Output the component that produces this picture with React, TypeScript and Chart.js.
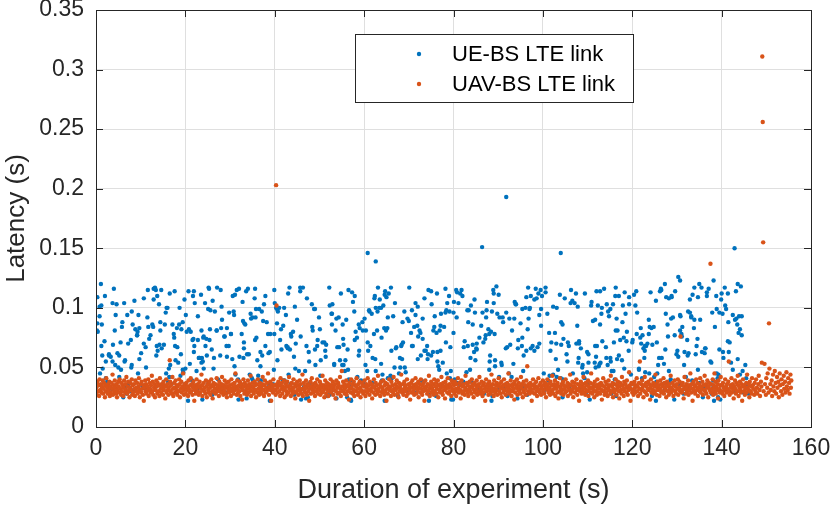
import React, { useEffect, useRef } from "react";
import { Chart, registerables } from "chart.js";

Chart.register(...registerables);

// Axis ticks
const xTicks = [0, 20, 40, 60, 80, 100, 120, 140, 160];
const yTicks = [0, 0.05, 0.1, 0.15, 0.2, 0.25, 0.3, 0.35];

// UE-BS LTE link samples: pairs of (time in 0.1 s, latency in ms)
const ue0to20 = [1,36, 2,81, 3,87, 4,80, 8,101, 9,45, 11,120, 12,68, 13,86, 14,60, 15,49, 19,72, 20,110, 22,41, 25,38, 29,61, 33,59, 35,32, 37,104, 38,69, 40,116, 42,81, 43,52, 46,103, 48,62, 50,50, 52,42, 55,71, 58,84, 61,25, 63,104, 65,56, 66,33, 69,28, 72,70, 73,36, 76,30, 78,73, 79,50, 80,52, 82,86, 85,31, 86,106, 88,82, 92,77, 93,80, 94,45, 95,94, 97,57, 101,62, 104,34, 107,70, 108,33, 111,67, 112,50, 114,32, 115,92, 116,115, 119,74, 120,32, 122,77, 126,86, 128,84, 129,116, 132,117, 134,115, 135,60, 136,68, 138,64, 141,103, 142,69, 144,88, 146,115, 147,66, 149,34, 152,69, 154,86, 157,45, 158,100, 160,100, 161,38, 163,49, 164,42, 165,112, 169,36, 171,86, 174,78, 176,114, 177,68, 178,56, 181,83, 182,67, 184,54, 186,86, 189,43, 190,61, 191,82, 194,48, 195,46, 199,36];
const ue20to40 = [200,49, 201,94, 203,80, 206,22, 208,82, 210,53, 212,80, 215,39, 217,110, 218,74, 219,114, 220,68, 221,104, 225,47, 227,31, 228,93, 230,58, 232,58, 235,111, 236,81, 237,58, 238,23, 239,55, 240,75, 241,76, 244,104, 245,68, 247,74, 248,60, 250,36, 252,117, 253,116, 254,73, 255,82, 259,65, 260,27, 263,49, 264,58, 266,97, 270,81, 271,117, 272,31, 273,40, 275,33, 278,60, 279,115, 280,83, 281,101, 282,32, 284,33, 287,76, 290,29, 292,68, 293,59, 297,68, 298,96, 302,78, 305,57, 306,110, 308,97, 309,94, 311,111, 312,44, 315,115, 318,40, 319,23, 320,116, 324,34, 328,105, 329,89, 330,58, 331,66, 332,87, 334,86, 335,30, 337,24, 338,61, 340,116, 342,61, 344,44, 346,95, 349,41, 350,92, 351,39, 355,108, 356,116, 357,92, 358,99, 359,75, 363,43, 366,39, 368,51, 369,39, 371,97, 372,60, 374,89, 376,103, 379,68, 382,88, 386,62, 388,35, 389,22, 390,78, 393,34, 396,36, 398,48, 399,78];
const ue40to60 = [400,104, 403,100, 405,99, 406,56, 407,97, 410,100, 414,82, 418,39, 419,85, 422,39, 425,94, 426,68, 429,66, 430,112, 431,44, 433,117, 434,65, 435,36, 437,76, 441,80, 443,59, 444,27, 445,101, 446,49, 450,90, 454,47, 457,114, 458,76, 459,23, 463,117, 465,33, 466,34, 470,24, 471,68, 472,108, 474,25, 476,63, 479,37, 483,103, 484,84, 488,99, 490,99, 491,52, 495,68, 496,73, 499,92, 502,43, 503,56, 507,71, 511,71, 514,59, 515,69, 518,26, 522,117, 523,27, 527,95, 528,95, 529,103, 531,31, 533,53, 536,81, 538,24, 540,67, 544,67, 546,56, 548,112, 551,52, 552,86, 553,74, 554,52, 557,47, 558,56, 560,90, 562,25, 564,48, 565,115, 566,40, 569,39, 570,23, 571,22, 572,35, 575,105, 578,97, 579,110, 581,80, 584,75, 585,42, 588,60, 589,64, 590,83, 593,39, 596,88];
const ue60to80 = [600,36, 603,52, 604,81, 607,47, 608,71, 608,146, 609,64, 612,97, 614,68, 617,95, 618,37, 622,78, 623,108, 624,110, 625,57, 626,100, 626,139, 629,81, 630,97, 631,117, 634,100, 635,107, 638,100, 639,75, 640,39, 641,44, 643,102, 645,83, 646,22, 647,114, 650,109, 652,83, 653,41, 655,112, 659,43, 661,64, 662,41, 665,93, 668,50, 669,104, 672,67, 676,26, 678,45, 680,58, 681,50, 684,69, 685,57, 686,88, 687,71, 690,97, 693,46, 696,31, 697,91, 701,117, 705,79, 707,68, 709,68, 712,84, 715,94, 717,29, 719,85, 720,57, 721,76, 724,81, 726,79, 727,60, 728,39, 731,74, 733,38, 735,64, 738,64, 741,68, 743,61, 744,115, 745,22, 746,27, 750,114, 751,103, 754,63, 755,81, 757,84, 761,26, 762,79, 763,112, 764,55, 766,51, 768,48, 769,81, 771,85, 772,95, 775,35, 776,54, 779,84, 782,116, 783,71, 784,98, 785,45, 786,104, 790,110, 791,97, 792,41, 794,47, 795,23, 799,23];
const ue80to100 = [800,79, 801,105, 803,40, 806,115, 807,92, 808,37, 810,30, 814,36, 818,115, 820,110, 822,38, 825,72, 829,46, 831,98, 832,68, 833,88, 836,30, 837,48, 839,102, 840,38, 843,69, 846,63, 847,107, 848,96, 849,56, 851,66, 852,65, 855,32, 858,75, 862,29, 864,151, 865,96, 867,71, 868,28, 872,77, 873,92, 874,98, 875,105, 878,82, 880,48, 881,55, 882,60, 884,80, 885,22, 886,97, 887,26, 889,115, 890,104, 892,78, 893,51, 896,118, 898,95, 901,33, 902,42, 903,92, 907,54, 910,92, 914,34, 917,66, 918,96, 918,193, 921,26, 924,45, 925,91, 927,69, 930,42, 934,53, 935,36, 936,91, 937,105, 939,103, 943,24, 945,73, 947,32, 950,87, 953,68, 954,99, 955,33, 956,47, 957,60, 961,100, 963,64, 965,27, 967,117, 968,91, 970,99, 971,100, 973,66, 977,68, 981,64, 984,116, 986,108, 988,67, 990,112, 992,70, 995,115, 996,85, 998,110];
const ue100to120 = [1002,45, 1003,31, 1006,113, 1007,34, 1010,95, 1012,39, 1015,43, 1017,64, 1019,71, 1023,44, 1027,79, 1029,57, 1030,70, 1031,42, 1034,48, 1038,111, 1040,41, 1040,146, 1041,88, 1044,25, 1045,40, 1046,74, 1049,108, 1053,61, 1056,71, 1058,68, 1060,32, 1062,104, 1063,115, 1067,45, 1071,104, 1075,70, 1078,101, 1079,54, 1080,58, 1081,72, 1085,66, 1086,33, 1089,52, 1090,45, 1093,41, 1096,28, 1099,63, 1101,36, 1102,61, 1105,23, 1109,105, 1112,89, 1116,54, 1117,90, 1118,50, 1119,59, 1121,68, 1123,102, 1125,51, 1127,53, 1128,114, 1129,54, 1132,100, 1133,72, 1137,116, 1141,67, 1143,103, 1145,52, 1146,97, 1148,93, 1151,58, 1152,55, 1153,28, 1157,103, 1158,47, 1159,71, 1161,40, 1162,110, 1163,81, 1164,26, 1165,91, 1166,57, 1167,81, 1170,110, 1173,73, 1177,56, 1179,102, 1182,49, 1183,113, 1185,95, 1188,80, 1192,64, 1193,109, 1197,44];
const ue120to147 = [1200,71, 1204,111, 1205,30, 1207,102, 1209,114, 1211,96, 1215,49, 1219,83, 1220,70, 1222,41, 1225,66, 1227,58, 1228,68, 1229,46, 1231,68, 1234,70, 1237,78, 1238,45, 1239,84, 1241,113, 1244,26, 1245,69, 1248,84, 1249,42, 1253,22, 1254,38, 1255,71, 1256,45, 1258,52, 1260,58, 1264,116, 1265,115, 1269,36, 1271,53, 1273,31, 1273,120, 1274,65, 1275,95, 1278,36, 1279,86, 1280,76, 1282,47, 1283,37, 1284,31, 1286,40, 1287,91, 1288,110, 1291,92, 1294,23, 1296,114, 1299,61, 1301,64, 1303,59, 1303,126, 1306,36, 1307,81, 1307,123, 1308,93, 1310,78, 1311,76, 1315,28, 1316,52, 1317,32, 1320,42, 1323,73, 1324,60, 1325,97, 1326,62, 1327,33, 1329,96, 1332,92, 1334,39, 1335,111, 1338,83, 1339,90, 1342,61, 1344,68, 1346,74, 1347,48, 1350,37, 1350,120, 1352,90, 1355,117, 1358,25, 1360,34, 1362,62, 1363,34, 1364,66, 1367,113, 1371,116, 1375,55, 1377,54, 1378,28, 1381,39, 1382,34, 1382,123, 1383,22, 1385,84, 1388,110, 1389,45, 1391,41, 1392,25, 1393,44, 1395,96, 1397,23, 1399,107, 1400,112, 1402,95, 1403,63, 1407,117, 1410,99, 1413,31, 1414,72, 1415,88, 1416,63, 1418,71, 1421,54, 1425,94, 1427,30, 1429,150, 1430,90, 1433,91, 1435,86, 1436,57, 1436,120, 1438,79, 1439,93, 1441,44, 1443,118, 1445,93, 1447,47, 1449,29, 1453,52, 1455,41, 1457,34, 1460,28];
const ueExtra = [3,109, 8,93, 12,102, 22,55, 29,60, 37,55, 44,94, 52,60, 56,48, 59,88, 64,55, 70,94, 80,97, 92,77, 97,83, 107,108, 117,84, 129,107, 137,110, 144,81, 156,96, 166,52, 175,75, 187,100, 194,88, 198,107, 207,114, 216,73, 219,63, 228,73, 231,58, 236,54, 241,49, 251,99, 256,98, 261,106, 270,81, 282,90, 288,76, 293,83, 302,78, 310,51, 321,59, 326,78, 331,71, 336,114, 347,91, 356,73, 361,56, 365,99, 368,63, 379,110, 385,78, 389,63, 399,115, 405,87, 412,73, 415,65, 421,100, 429,67, 436,78, 447,70, 457,117, 468,47, 477,55, 485,81, 490,65, 501,82, 513,64, 523,102, 528,86, 533,52, 538,91, 543,92, 554,69, 563,65, 573,113, 579,73, 588,86, 597,81, 601,91, 611,98, 619,58, 626,47, 638,53, 646,111, 649,81, 653,92, 660,117, 671,66, 683,68, 691,50, 700,89, 707,98, 715,104, 720,101, 731,91, 735,108, 742,57, 750,60, 758,93, 764,63, 771,64, 782,96, 793,67, 800,96, 808,113, 811,104, 815,112, 823,67, 834,98, 838,58, 843,86, 852,70, 862,85, 871,74, 880,78, 890,112, 893,56, 901,111, 908,52, 911,88, 920,67, 931,81, 940,103, 944,66, 954,75, 963,109, 966,82, 973,110, 981,107, 992,94, 996,99, 1006,117, 1014,79, 1023,101, 1031,100, 1041,69, 1044,86, 1055,55, 1066,106, 1074,112, 1077,85, 1081,70, 1088,50, 1094,112, 1099,46, 1102,54, 1108,102, 1117,68, 1120,114, 1128,86, 1131,95, 1142,58, 1151,99, 1154,47, 1163,117, 1170,60, 1178,88, 1181,75, 1187,72, 1193,103, 1201,73, 1210,78, 1215,48, 1218,75, 1223,77, 1228,64, 1237,90, 1243,83, 1253,106, 1262,114, 1266,58, 1276,109, 1282,108, 1288,109, 1295,77, 1307,94, 1312,84, 1317,63, 1329,107, 1332,93, 1339,117, 1347,109, 1356,63, 1363,66, 1367,110, 1379,96, 1389,99, 1395,65, 1404,58, 1408,102, 1414,112, 1425,48, 1432,114, 1441,82, 1445,77];

// UAV-BS LTE link samples: pairs of (time in 0.1 s, latency in ms)
const uav0to20 = [1,33, 2,27, 3,38, 5,30, 6,35, 7,26, 8,40, 10,31, 11,36, 12,29, 13,34, 15,39, 16,28, 17,32, 18,37, 20,25, 21,35, 22,30, 23,41, 25,33, 26,28, 27,36, 28,31, 30,38, 31,26, 32,34, 33,29, 35,37, 36,32, 37,44, 38,27, 40,35, 41,30, 42,39, 43,33, 45,28, 46,36, 47,25, 48,31, 50,38, 51,34, 52,29, 53,40, 55,32, 56,27, 57,37, 58,30, 60,35, 61,26, 62,33, 63,39, 65,29, 66,36, 67,31, 68,42, 70,28, 71,34, 72,38, 73,30, 75,25, 76,33, 77,37, 78,31, 80,40, 81,27, 82,35, 83,29, 85,36, 86,32, 87,26, 88,39, 90,33, 91,30, 92,37, 93,28, 95,34, 96,41, 97,31, 98,25, 100,36, 101,29, 102,38, 103,32, 105,27, 106,35, 107,22, 108,33, 110,39, 111,30, 112,36, 113,28, 115,34, 116,31, 117,40, 118,26, 120,37, 121,32, 122,29, 123,35, 125,43, 126,30, 127,38, 128,27, 130,33, 131,36, 132,25, 133,31, 135,39, 136,34, 137,28, 138,37, 140,30, 141,35, 142,26, 143,41, 145,32, 146,29, 147,36, 148,33, 150,27, 151,38, 152,31, 153,35, 155,24, 156,34, 157,40, 158,29, 160,36, 161,31, 162,27, 163,33, 165,56, 166,38, 167,30, 168,35, 170,28, 171,42, 172,32, 173,26, 175,37, 176,33, 177,29, 178,39, 180,31, 181,35, 182,27, 183,34, 185,30, 186,40, 187,36, 188,25, 190,32, 191,38, 192,29, 193,34, 195,45, 196,31, 197,27, 198,36, 200,33];
const uav20to40 = [201,28, 202,37, 203,31, 205,34, 206,26, 207,39, 208,32, 210,29, 211,35, 212,41, 213,30, 215,36, 216,27, 217,33, 218,38, 220,22, 221,31, 222,35, 223,28, 225,40, 226,33, 227,30, 228,36, 230,27, 231,34, 232,38, 233,29, 235,32, 236,44, 237,35, 238,26, 240,31, 241,37, 242,30, 243,33, 245,28, 246,39, 247,34, 248,25, 250,36, 251,31, 252,29, 253,38, 255,33, 256,27, 257,35, 258,40, 260,30, 261,24, 262,34, 263,37, 265,29, 266,32, 267,36, 268,28, 270,41, 271,33, 272,30, 273,35, 275,26, 276,38, 277,31, 278,34, 280,29, 281,36, 282,42, 283,32, 285,27, 286,35, 287,30, 288,39, 290,33, 291,28, 292,37, 293,25, 295,34, 296,31, 297,38, 298,29, 300,35, 301,32, 302,26, 303,40, 305,30, 306,36, 307,33, 308,28, 310,37, 311,31, 312,45, 313,34, 315,27, 316,39, 317,32, 318,29, 320,35, 321,30, 322,38, 323,26, 325,33, 326,36, 327,23, 328,31, 330,40, 331,34, 332,28, 333,37, 335,30, 336,35, 337,32, 338,27, 340,39, 341,33, 342,29, 343,36, 345,31, 346,43, 347,26, 348,34, 350,37, 351,30, 352,33, 353,28, 355,38, 356,35, 357,31, 358,25, 360,36, 361,29, 362,40, 363,32, 365,27, 366,34, 367,37, 368,30, 370,33, 371,28, 372,36, 373,42, 375,31, 376,26, 377,35, 378,39, 380,29, 381,33, 382,30, 383,37, 385,45, 386,32, 387,27, 388,34, 390,38, 391,31, 392,22, 393,36, 395,33, 396,29, 397,40, 398,30, 400,35];
const uav40to60 = [401,31, 402,27, 403,203, 404,102, 405,36, 406,33, 407,29, 408,38, 410,30, 411,35, 412,26, 413,41, 415,32, 416,37, 417,28, 418,34, 420,31, 421,39, 422,25, 423,33, 425,36, 426,30, 427,27, 428,38, 430,34, 431,29, 432,42, 433,32, 435,35, 436,26, 437,31, 438,37, 440,28, 441,33, 442,40, 443,30, 445,36, 446,24, 447,34, 448,29, 450,38, 451,31, 452,35, 453,27, 455,33, 456,39, 457,30, 458,36, 460,28, 461,32, 462,44, 463,26, 465,37, 466,31, 467,34, 468,29, 470,39, 471,33, 472,27, 473,36, 475,30, 476,35, 477,22, 478,32, 480,38, 481,28, 482,34, 483,41, 485,31, 486,36, 487,29, 488,33, 490,26, 491,37, 492,30, 493,35, 495,40, 496,32, 497,28, 498,34, 500,31, 501,38, 502,27, 503,36, 505,33, 506,29, 507,43, 508,30, 510,35, 511,25, 512,32, 513,39, 515,28, 516,34, 517,37, 518,31, 520,26, 521,36, 522,30, 523,33, 525,40, 526,29, 527,35, 528,32, 530,38, 531,27, 532,34, 533,31, 535,36, 536,24, 537,30, 538,39, 540,33, 541,28, 542,37, 543,35, 545,29, 546,42, 547,32, 548,26, 550,47, 551,34, 552,30, 553,38, 555,31, 556,36, 557,28, 558,33, 560,39, 561,27, 562,35, 563,30, 565,34, 566,23, 567,37, 568,32, 570,29, 571,40, 572,33, 573,36, 575,28, 576,31, 577,38, 578,26, 580,35, 581,30, 582,34, 583,41, 585,32, 586,27, 587,36, 588,29, 590,38, 591,33, 592,25, 593,31, 595,37, 596,30, 597,35, 598,28, 600,34];
const uav60to80 = [601,39, 602,30, 603,26, 605,36, 606,33, 607,29, 608,41, 610,31, 611,35, 612,27, 613,38, 615,32, 616,30, 617,36, 618,24, 620,34, 621,29, 622,40, 623,33, 625,27, 626,37, 627,31, 628,35, 630,28, 631,43, 632,32, 633,30, 635,36, 636,26, 637,34, 638,38, 640,29, 641,33, 642,31, 643,39, 645,27, 646,35, 647,30, 648,37, 650,22, 651,32, 652,36, 653,28, 655,34, 656,40, 657,31, 658,33, 660,26, 661,38, 662,30, 663,35, 665,29, 666,42, 667,32, 668,27, 670,36, 671,31, 672,34, 673,39, 675,28, 676,33, 677,25, 678,37, 680,30, 681,35, 682,32, 683,44, 685,29, 686,36, 687,31, 688,27, 690,38, 691,33, 692,30, 693,35, 695,26, 696,40, 697,32, 698,28, 700,36, 701,31, 702,34, 703,23, 705,37, 706,29, 707,33, 708,39, 710,30, 711,35, 712,27, 713,32, 715,41, 716,36, 717,28, 718,34, 720,31, 721,38, 722,25, 723,33, 725,36, 726,29, 727,40, 728,32, 730,27, 731,35, 732,30, 733,37, 735,22, 736,33, 737,39, 738,31, 740,34, 741,28, 742,36, 743,30, 745,43, 746,32, 747,26, 748,35, 750,38, 751,29, 752,33, 753,31, 755,36, 756,27, 757,40, 758,30, 760,34, 761,37, 762,28, 763,32, 765,39, 766,25, 767,35, 768,31, 770,29, 771,36, 772,33, 773,42, 775,30, 776,27, 777,37, 778,34, 780,31, 781,24, 782,38, 783,32, 785,35, 786,29, 787,41, 788,33, 790,28, 791,36, 792,30, 793,34, 795,26, 796,39, 797,32, 798,37, 800,30];
const uav80to100 = [801,35, 802,28, 803,38, 805,32, 806,26, 807,36, 808,30, 810,41, 811,33, 812,29, 813,37, 815,31, 816,24, 817,35, 818,39, 820,28, 821,34, 822,30, 823,36, 825,27, 826,33, 827,43, 828,31, 830,37, 831,29, 832,35, 833,26, 835,32, 836,38, 837,30, 838,34, 840,28, 841,40, 842,33, 843,36, 845,25, 846,31, 847,37, 848,29, 850,35, 851,32, 852,39, 853,27, 855,34, 856,30, 857,36, 858,42, 860,28, 861,33, 862,31, 863,38, 865,26, 866,35, 867,29, 868,37, 870,32, 871,22, 872,34, 873,40, 875,30, 876,36, 877,33, 878,27, 880,38, 881,31, 882,35, 883,28, 885,44, 886,33, 887,30, 888,36, 890,26, 891,39, 892,32, 893,29, 895,35, 896,31, 897,37, 898,27, 900,34, 901,41, 902,30, 903,36, 905,28, 906,33, 907,38, 908,25, 910,32, 911,35, 912,29, 913,40, 915,31, 916,36, 917,27, 918,34, 920,37, 921,30, 922,33, 923,45, 925,28, 926,35, 927,31, 928,39, 930,26, 931,34, 932,30, 933,36, 935,32, 936,23, 937,38, 938,29, 940,35, 941,33, 942,40, 943,27, 945,31, 946,37, 947,30, 948,34, 950,28, 951,42, 952,33, 953,36, 955,25, 956,31, 957,38, 958,29, 960,35, 961,32, 962,27, 963,39, 965,51, 966,34, 967,30, 968,36, 970,28, 971,33, 972,37, 973,31, 975,22, 976,35, 977,29, 978,40, 980,32, 981,36, 982,28, 983,34, 985,38, 986,30, 987,26, 988,33, 990,41, 991,31, 992,35, 993,29, 995,37, 996,27, 997,34, 998,32, 1000,39];
const uav100to120 = [1001,30, 1002,35, 1003,28, 1005,37, 1006,32, 1007,25, 1008,34, 1010,40, 1011,31, 1012,36, 1013,29, 1015,33, 1016,27, 1017,38, 1018,30, 1020,35, 1021,43, 1022,31, 1023,28, 1025,36, 1026,33, 1027,39, 1028,26, 1030,32, 1031,35, 1032,29, 1033,37, 1035,24, 1036,34, 1037,30, 1038,41, 1040,33, 1041,28, 1042,36, 1043,31, 1045,38, 1046,27, 1047,35, 1048,32, 1050,29, 1051,40, 1052,34, 1053,30, 1055,37, 1056,26, 1057,33, 1058,36, 1060,31, 1061,44, 1062,28, 1063,35, 1065,30, 1066,38, 1067,32, 1068,25, 1070,34, 1071,37, 1072,29, 1073,33, 1075,40, 1076,31, 1077,27, 1078,36, 1080,32, 1081,22, 1082,35, 1083,30, 1085,38, 1086,34, 1087,28, 1088,31, 1090,36, 1091,42, 1092,29, 1093,33, 1095,27, 1096,37, 1097,31, 1098,35, 1100,30, 1101,39, 1102,26, 1103,34, 1105,32, 1106,37, 1107,29, 1108,45, 1110,33, 1111,28, 1112,36, 1113,31, 1115,25, 1116,38, 1117,34, 1118,30, 1120,35, 1121,27, 1122,40, 1123,32, 1125,29, 1126,36, 1127,33, 1128,28, 1130,37, 1131,31, 1132,23, 1133,35, 1135,41, 1136,30, 1137,34, 1138,27, 1140,38, 1141,32, 1142,29, 1143,36, 1145,26, 1146,33, 1147,39, 1148,31, 1150,35, 1151,28, 1152,43, 1153,30, 1155,34, 1156,37, 1157,25, 1158,32, 1160,29, 1161,36, 1162,31, 1163,40, 1165,27, 1166,35, 1167,33, 1168,38, 1170,30, 1171,24, 1172,34, 1173,37, 1175,31, 1176,28, 1177,42, 1178,35, 1180,32, 1181,26, 1182,38, 1183,30, 1185,36, 1186,33, 1187,29, 1188,39, 1190,27, 1191,34, 1192,31, 1193,46, 1195,35, 1196,22, 1197,32, 1198,37, 1200,29];
const uav120to140 = [1201,36, 1202,31, 1203,27, 1205,38, 1206,33, 1207,29, 1208,35, 1210,41, 1211,30, 1212,34, 1213,26, 1215,37, 1216,32, 1217,55, 1218,28, 1220,36, 1221,31, 1222,39, 1223,33, 1225,25, 1226,35, 1227,30, 1228,42, 1230,29, 1231,37, 1232,34, 1233,27, 1235,32, 1236,38, 1237,31, 1238,36, 1240,23, 1241,33, 1242,40, 1243,29, 1245,35, 1246,31, 1247,37, 1248,28, 1250,34, 1251,30, 1252,44, 1253,36, 1255,27, 1256,33, 1257,38, 1258,31, 1260,35, 1261,26, 1262,32, 1263,39, 1265,29, 1266,36, 1267,30, 1268,34, 1270,41, 1271,28, 1272,37, 1273,33, 1275,31, 1276,25, 1277,35, 1278,38, 1280,30, 1281,34, 1282,27, 1283,36, 1285,32, 1286,43, 1287,29, 1288,33, 1290,37, 1291,31, 1292,26, 1293,35, 1295,39, 1296,30, 1297,34, 1298,28, 1300,36, 1301,32, 1302,40, 1303,27, 1305,33, 1306,38, 1307,30, 1308,76, 1310,35, 1311,29, 1312,31, 1313,37, 1315,24, 1316,34, 1317,42, 1318,32, 1320,28, 1321,36, 1322,33, 1323,30, 1325,39, 1326,27, 1327,35, 1328,31, 1330,45, 1331,33, 1332,29, 1333,36, 1335,22, 1336,32, 1337,38, 1338,30, 1340,35, 1341,28, 1342,34, 1343,40, 1345,31, 1346,37, 1347,26, 1348,33, 1350,36, 1351,30, 1352,41, 1353,29, 1355,34, 1356,32, 1357,38, 1358,27, 1360,35, 1361,31, 1362,43, 1363,30, 1365,36, 1366,28, 1367,33, 1368,39, 1370,25, 1371,34, 1372,37, 1373,31, 1375,137, 1376,29, 1377,36, 1378,32, 1380,40, 1381,27, 1382,35, 1383,30, 1384,45, 1385,33, 1386,38, 1387,28, 1388,34, 1390,31, 1391,36, 1392,24, 1393,39, 1395,32, 1396,29, 1397,35, 1398,42, 1400,30];
const uav140to156 = [1401,35, 1402,28, 1403,37, 1405,33, 1406,26, 1407,31, 1408,40, 1410,34, 1411,29, 1412,36, 1413,32, 1415,38, 1416,55, 1417,30, 1418,27, 1420,35, 1421,33, 1422,41, 1423,29, 1425,36, 1426,31, 1427,24, 1428,34, 1430,39, 1431,32, 1432,28, 1433,37, 1435,30, 1436,43, 1437,35, 1438,26, 1440,33, 1441,38, 1442,31, 1443,29, 1445,36, 1446,22, 1447,34, 1448,40, 1450,30, 1451,35, 1452,27, 1453,32, 1455,37, 1456,29, 1457,44, 1458,33, 1460,31, 1461,36, 1462,25, 1463,38, 1465,30, 1466,34, 1467,28, 1468,41, 1470,35, 1471,32, 1473,27, 1474,37, 1476,30, 1477,40, 1479,33, 1480,28, 1482,36, 1483,43, 1485,31, 1486,26, 1488,38, 1489,34, 1490,54, 1491,311, 1492,256, 1493,155, 1494,30, 1496,53, 1497,36, 1499,27, 1500,41, 1502,33, 1503,45, 1505,29, 1506,87, 1507,49, 1509,36, 1510,31, 1512,39, 1513,26, 1515,44, 1516,34, 1518,30, 1519,47, 1521,37, 1522,28, 1524,42, 1525,33, 1527,38, 1528,25, 1530,45, 1531,35, 1533,30, 1534,40, 1536,27, 1537,36, 1539,43, 1540,32, 1542,38, 1543,29, 1545,46, 1546,34, 1548,31, 1549,41, 1551,37, 1552,28, 1554,44, 1555,33, 1556,39];

const ueLabel = "UE-BS LTE link";
const uavLabel = "UAV-BS LTE link";
const ueColor = "#0072BD";
const uavColor = "#D95319";

const FONT = "'Liberation Sans', Arial, Helvetica, sans-serif";
const AXIS_COLOR = "#262626";
const GRID_COLOR = "#dfdfdf";

function toPoints(...chunks: number[][]) {
  const pts: { x: number; y: number }[] = [];
  for (const arr of chunks) {
    for (let i = 0; i + 1 < arr.length; i += 2) {
      pts.push({ x: arr[i] / 10, y: arr[i + 1] / 1000 });
    }
  }
  return pts;
}

const matlabAxes = {
  id: "matlabAxes",
  afterDatasetsDraw(chart: any) {
    const { ctx, chartArea } = chart;
    const { left, right, top, bottom } = chartArea;
    const xs = chart.scales.x;
    const ys = chart.scales.y;
    const tl = 7;
    ctx.save();
    ctx.strokeStyle = AXIS_COLOR;
    ctx.lineWidth = 1;
    ctx.beginPath();
    for (const v of xTicks) {
      const px = Math.round(xs.getPixelForValue(v)) + 0.5;
      ctx.moveTo(px, bottom);
      ctx.lineTo(px, bottom - tl);
      ctx.moveTo(px, top);
      ctx.lineTo(px, top + tl);
    }
    for (const v of yTicks) {
      const py = Math.round(ys.getPixelForValue(v)) + 0.5;
      ctx.moveTo(left, py);
      ctx.lineTo(left + tl, py);
      ctx.moveTo(right, py);
      ctx.lineTo(right - tl, py);
    }
    ctx.stroke();
    ctx.strokeRect(Math.round(left) + 0.5, Math.round(top) + 0.5, Math.round(right - left), Math.round(bottom - top));

    // legend
    const lx = 355.5, ly = 34.5, lw = 278, lh = 68;
    ctx.fillStyle = "#ffffff";
    ctx.fillRect(lx, ly, lw, lh);
    ctx.strokeStyle = AXIS_COLOR;
    ctx.strokeRect(lx, ly, lw, lh);
    const entries = [
      { label: ueLabel, color: ueColor, y: 54 },
      { label: uavLabel, color: uavColor, y: 84 },
    ];
    ctx.font = `22px ${FONT}`;
    ctx.textAlign = "left";
    ctx.textBaseline = "middle";
    for (const e of entries) {
      ctx.fillStyle = e.color;
      ctx.beginPath();
      ctx.arc(419, e.y, 2.2, 0, Math.PI * 2);
      ctx.fill();
      ctx.fillStyle = "#000000";
      ctx.fillText(e.label, 452, e.y + 1);
    }
    ctx.restore();
  },
};

export default function App() {
  const ref = useRef<HTMLCanvasElement | null>(null);

  useEffect(() => {
    document.body.style.margin = "0";
    const canvas = ref.current;
    if (!canvas) return;
    const chart = new Chart(canvas, {
      type: "scatter",
      data: {
        datasets: [
          {
            label: uavLabel,
            data: toPoints(uav0to20, uav20to40, uav40to60, uav60to80, uav80to100, uav100to120, uav120to140, uav140to156),
            backgroundColor: uavColor,
            borderWidth: 0,
            pointRadius: 2.2,
            pointHoverRadius: 2.2,
            order: 0,
          },
          {
            label: ueLabel,
            data: toPoints(ue0to20, ue20to40, ue40to60, ue60to80, ue80to100, ue100to120, ue120to147, ueExtra),
            backgroundColor: ueColor,
            borderWidth: 0,
            pointRadius: 2.2,
            pointHoverRadius: 2.2,
            order: 1,
          },
        ],
      },
      options: {
        responsive: false,
        animation: false,
        events: [],
        layout: { padding: { top: 10, right: 19, bottom: 0, left: 0 } },
        plugins: { legend: { display: false }, tooltip: { enabled: false } },
        scales: {
          x: {
            type: "linear",
            min: 0,
            max: 160,
            afterBuildTicks: (s: any) => {
              s.ticks = xTicks.map((v) => ({ value: v }));
            },
            afterFit: (s: any) => {
              s.height = 78;
              s.paddingLeft = 0;
              s.paddingRight = 0;
            },
            ticks: {
              color: AXIS_COLOR,
              font: { family: FONT, size: 23, lineHeight: 1 },
              padding: 10,
              maxRotation: 0,
              callback: (v: any) => String(v),
            },
            grid: { color: GRID_COLOR, drawTicks: false },
            border: { display: true, color: AXIS_COLOR },
            title: {
              display: true,
              text: "Duration of experiment (s)",
              color: AXIS_COLOR,
              font: { family: FONT, size: 27, lineHeight: 1 },
              padding: { top: 0, bottom: 1 },
            },
          },
          y: {
            type: "linear",
            min: 0,
            max: 0.35,
            afterBuildTicks: (s: any) => {
              s.ticks = yTicks.map((v) => ({ value: v }));
            },
            afterFit: (s: any) => {
              s.width = 96;
              s.paddingTop = 0;
              s.paddingBottom = 0;
            },
            ticks: {
              color: AXIS_COLOR,
              font: { family: FONT, size: 23, lineHeight: 1 },
              padding: 12,
              callback: (v: any) => String(Number(Number(v).toFixed(2))),
            },
            grid: { color: GRID_COLOR, drawTicks: false },
            border: { display: true, color: AXIS_COLOR },
            title: {
              display: true,
              text: "Latency (s)",
              color: AXIS_COLOR,
              font: { family: FONT, size: 26, lineHeight: 1 },
              padding: { top: 4, bottom: 0 },
            },
          },
        },
      },
      plugins: [matlabAxes],
    } as any);
    return () => chart.destroy();
  }, []);

  return (
    <div style={{ position: "absolute", left: 0, top: 0, width: 830, height: 505 }}>
      <canvas ref={ref} width={830} height={505} style={{ display: "block" }} />
    </div>
  );
}
